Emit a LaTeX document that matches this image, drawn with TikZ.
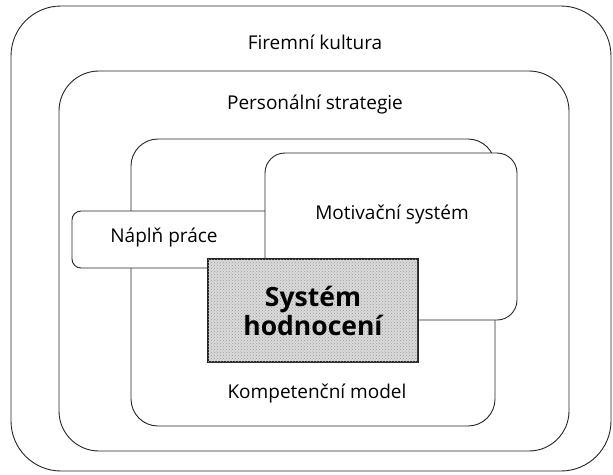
\documentclass[tikz,border=0pt]{standalone}
\usepackage{fontspec}
\setmainfont{Open Sans}
\usetikzlibrary{patterns}

\begin{document}
\begin{tikzpicture}[x=1pt, y=-1pt,
		frame/.style={draw=black!85, line width=0.9pt, fill=white, inner sep=0pt},
		lbl/.style={font=\fontsize{19}{22}\selectfont, inner sep=0pt},
		core/.style={draw=black!85, line width=1.1pt, fill=gray!28,
				postaction={pattern=crosshatch dots, pattern color=gray!80},
				minimum width=210pt, minimum height=103pt, inner sep=0pt,
				align=center, font=\fontsize{26.5}{29}\selectfont\bfseries}]

		\useasboundingbox (0,0) rectangle (613,474);

		% -- nested frames --
		\node[frame, rounded corners=50pt, minimum width=600pt, minimum height=465pt] (kultura) at (311,238.5) {};
		\node[lbl] (kulturaT) at (315,42) {Firemní kultura};

		\node[frame, rounded corners=40pt, minimum width=510pt, minimum height=380pt] (strategie) at (314,261) {};
		\node[lbl] (strategieT) at (315,105) {Personální strategie};

		\node[frame, rounded corners=27pt, minimum width=364pt, minimum height=287pt] (kompetence) at (313,282.5) {};
		\node[lbl] (kompetenceT) at (317,393) {Kompetenční model};

		% -- overlapping boxes --
		\node[frame, rounded corners=9pt, minimum width=208pt, minimum height=57pt] (naplen) at (176,239.5) {};
		\node[lbl] (naplenT) at (164,238) {Náplň práce};

		\node[frame, rounded corners=20pt, minimum width=252pt, minimum height=167pt] (motivace) at (391,236.5) {};
		\node[lbl] (motivaceT) at (392,215) {Motivační systém};

		% -- centre --
		\node[core] (hodnoceni) at (313,310.5) {Systém\\hodnocení};

	\end{tikzpicture}
\end{document}
